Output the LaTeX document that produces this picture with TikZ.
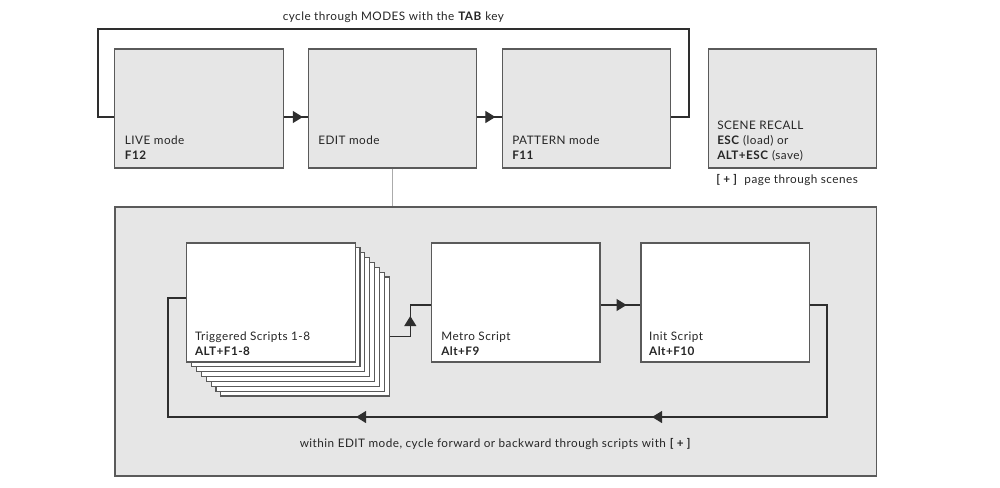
\documentclass[tikz,border=0pt]{standalone}
\usepackage{fontspec}
\setmainfont{Lato}[LetterSpace=4]
\usetikzlibrary{arrows.meta,decorations.markings,calc}
\definecolor{boxfill}{HTML}{E6E6E6}
\definecolor{boxline}{HTML}{5A5A5A}
\definecolor{connline}{HTML}{2E2E2E}
\definecolor{thinline}{HTML}{ABABAB}
\begin{document}
\begin{tikzpicture}[x=0.75pt,y=-0.75pt,
  font=\fontsize{8.8}{10}\selectfont,
  modebox/.style={draw=boxline, fill=boxfill, line width=0.9pt, inner sep=0pt,
    minimum width=126.3pt, minimum height=89.25pt},
  scriptbox/.style={draw=boxline, fill=white, line width=0.9pt, inner sep=0pt,
    minimum width=126.2pt, minimum height=89.25pt},
  outerbox/.style={draw=boxline, fill=boxfill, line width=0.9pt, inner sep=0pt,
    minimum width=571.3pt, minimum height=201.75pt},
  conn/.style={draw=connline, line width=0.9pt},
  link/.style={draw=thinline, line width=0.9pt},
  lbl/.style={anchor=base west, inner sep=0pt, text=black!85},
  midarrow/.style={postaction={decorate},
    decoration={markings, mark=at position #1 with {\arrow[connline]{Triangle[length=7.5pt,width=9pt]}}}},
  midarrowtwo/.style 2 args={postaction={decorate},
    decoration={markings,
      mark=at position #1 with {\arrow[connline]{Triangle[length=7.5pt,width=9pt]}},
      mark=at position #2 with {\arrow[connline]{Triangle[length=7.5pt,width=9pt]}}}},
]
\useasboundingbox[fill=white] (0,0) rectangle (1000,487);

% mode boxes
\node[modebox] (live) at (199,108.5) {};
\node[modebox] (edit) at (392.3,108.5) {};
\node[modebox] (pattern) at (586.3,108.5) {};
\node[modebox] (scene) at (792.3,108.5) {};

\coordinate (ymode) at (0,117);
\coordinate (loopTR) at (689,29);
\coordinate (loopTL) at (98,29);

% top loop
\draw[conn] (pattern.east |- ymode) -| (loopTR) -- (loopTL) |- (live.west |- ymode);
\draw[conn, midarrow=14.25pt] (live.east |- ymode) -- (edit.west |- ymode);
\draw[conn, midarrow=13.7pt] (edit.east |- ymode) -- (pattern.west |- ymode);

\node[lbl] (toplbl) at (282.5,20) {cycle through MODES with the \textbf{TAB} key};

\node[lbl] (liveA) at ($(live.south west)+(10.5,-23.7)$) {LIVE mode};
\node[lbl] (liveB) at ($(live.south west)+(10.5,-8.7)$) {\textbf{F12}};
\node[lbl] (editA) at ($(edit.south west)+(10.5,-23.7)$) {EDIT mode};
\node[lbl] (patA) at ($(pattern.south west)+(10.5,-23.7)$) {PATTERN mode};
\node[lbl] (patB) at ($(pattern.south west)+(10.5,-8.7)$) {\textbf{F11}};
\node[lbl] (scA) at ($(scene.south west)+(9.5,-38.7)$) {SCENE RECALL};
\node[lbl] (scB) at ($(scene.south west)+(9.5,-23.7)$) {\textbf{ESC} (load) or};
\node[lbl] (scC) at ($(scene.south west)+(9.5,-8.7)$) {\textbf{ALT+ESC} (save)};
\node[lbl] (scD) at (716,183.5) {\textbf{[ + ]}\ \ page through scenes};

% edit region
\node[outerbox] (outer) at (495.8,341.5) {};
\draw[link] (edit.south) -- (edit.south |- outer.north);

% stacked triggered scripts
\foreach \i in {7,6,...,1} {
  \node[scriptbox] (c\i) at (271+\i*4.86, 302.5+\i*4.86) {};
}
\node[scriptbox] (trig) at (271,302.5) {};
\node[scriptbox] (metro) at (515.8,302.5) {};
\node[scriptbox] (init) at (725.2,302.5) {};

\node[lbl] (trA) at ($(trig.south west)+(8.5,-22.5)$) {Triggered Scripts 1-8};
\node[lbl] (trB) at ($(trig.south west)+(8.5,-7.5)$) {\textbf{ALT+F1-8}};
\node[lbl] (meA) at ($(metro.south west)+(10,-22.5)$) {Metro Script};
\node[lbl] (meB) at ($(metro.south west)+(10,-7.5)$) {\textbf{Alt+F9}};
\node[lbl] (inA) at ($(init.south west)+(8.5,-22.5)$) {Init Script};
\node[lbl] (inB) at ($(init.south west)+(8.5,-7.5)$) {\textbf{Alt+F10}};

\coordinate (yscr) at (0,305);
\coordinate (stackX) at (410.3,0);
\coordinate (loopBR) at (827,417);
\coordinate (loopBL) at (168,417);
\coordinate (ytrig) at (0,298);

\draw[conn, midarrow=30.75pt] (c7.east) -| (stackX |- yscr) -- (metro.west |- yscr);
\draw[conn, midarrow=19.5pt] (metro.east |- yscr) -- (init.west |- yscr);
\draw[conn, midarrowtwo={228pt}{450pt}] (init.east |- yscr) -| (loopBR) -- (loopBL) |- (trig.west |- ytrig);

\node[lbl] (botlbl) at (299.5,447) {within EDIT mode, cycle forward or backward through scripts with \textbf{[ + ]}};
\end{tikzpicture}
\end{document}
